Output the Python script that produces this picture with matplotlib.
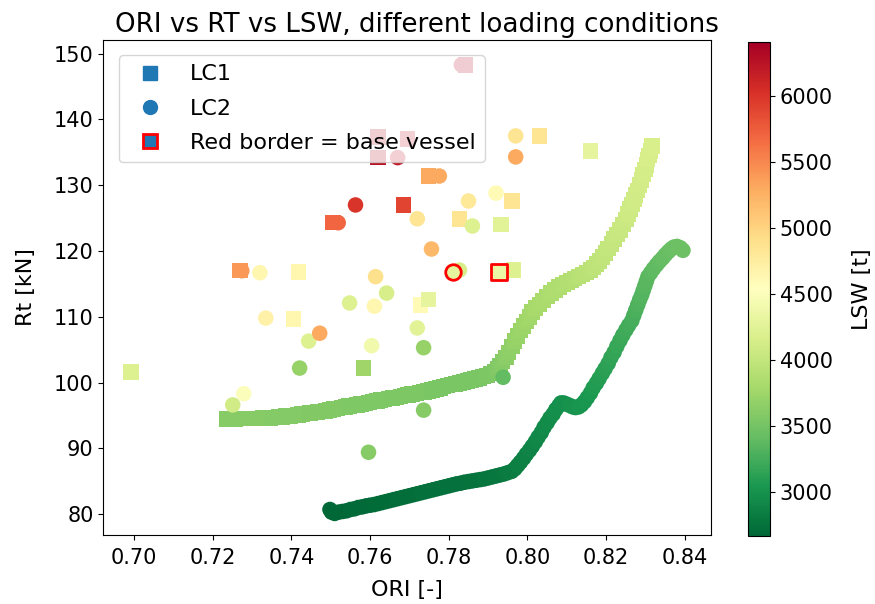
import matplotlib
matplotlib.use('Agg')
import matplotlib.pyplot as plt
from matplotlib.colors import Normalize
from matplotlib.lines import Line2D

# LC1 - sweep curve (squares)
lc1_curve_ori = [0.7237, 0.7247, 0.7257, 0.7267, 0.7277, 0.7287, 0.7297, 0.7307, 0.7317, 0.7327,
                 0.7337, 0.7347, 0.7357, 0.7367, 0.7377, 0.7387, 0.7397, 0.7407, 0.7417, 0.7427,
                 0.7437, 0.7447, 0.7457, 0.7467, 0.7477, 0.7487, 0.7497, 0.7507, 0.7517, 0.7527,
                 0.7537, 0.7547, 0.7557, 0.7567, 0.7577, 0.7587, 0.7597, 0.7607, 0.7617, 0.7627,
                 0.7637, 0.7647, 0.7657, 0.7667, 0.7677, 0.7687, 0.7697, 0.7707, 0.7717, 0.7727,
                 0.7737, 0.7747, 0.7757, 0.7767, 0.7777, 0.7787, 0.7797, 0.7807, 0.7817, 0.7827,
                 0.7837, 0.7847, 0.7857, 0.7867, 0.7877, 0.7887, 0.7897,
                 0.7907, 0.7917, 0.7924, 0.7930, 0.7937, 0.7945, 0.7952, 0.7960, 0.7967, 0.7975,
                 0.7982, 0.7990, 0.7997, 0.8005, 0.8012, 0.8020, 0.8030, 0.8040, 0.8050, 0.8060,
                 0.8070, 0.8080, 0.8090, 0.8100, 0.8110, 0.8120, 0.8130, 0.8140, 0.8150, 0.8160,
                 0.8168, 0.8175, 0.8183, 0.8190, 0.8198, 0.8205, 0.8213, 0.8220, 0.8228, 0.8235,
                 0.8243, 0.8250, 0.8255, 0.8260, 0.8265, 0.8270, 0.8275, 0.8280, 0.8285, 0.8290,
                 0.8294, 0.8298, 0.8302, 0.8305, 0.8309, 0.8312, 0.8316]
lc1_curve_rt = [94.45, 94.45, 94.45, 94.5, 94.5, 94.5, 94.5, 94.55, 94.55, 94.6,
                94.6, 94.65, 94.7, 94.75, 94.8, 94.9, 94.95, 95.0, 95.1, 95.2,
                95.3, 95.4, 95.45, 95.55, 95.6, 95.7, 95.8, 95.95, 96.05, 96.2,
                96.3, 96.4, 96.5, 96.6, 96.7, 96.85, 96.95, 97.1, 97.2, 97.35,
                97.45, 97.55, 97.65, 97.75, 97.85, 98.0, 98.1, 98.25, 98.35, 98.5,
                98.6, 98.75, 98.9, 99.05, 99.2, 99.4, 99.55, 99.7, 99.8, 99.95,
                100.1, 100.25, 100.4, 100.55, 100.7, 100.9, 101.1,
                101.4, 101.7, 102.1, 102.6, 103.2, 103.8, 104.6, 105.5, 106.3, 107.1,
                107.9, 108.6, 109.3, 110.0, 110.7, 111.3, 111.9, 112.5, 113.1, 113.6,
                114.1, 114.5, 114.9, 115.2, 115.5, 115.8, 116.1, 116.4, 116.7, 117.1,
                117.5, 118.0, 118.5, 119.1, 119.7, 120.4, 121.1, 121.8, 122.5, 123.2,
                124.0, 124.8, 125.6, 126.4, 127.1, 127.8, 128.5, 129.2, 130.0, 130.8,
                131.6, 132.4, 133.1, 133.9, 134.5, 135.2, 136.0]
lc1_curve_lsw = [3610, 3610, 3610, 3608, 3606, 3605, 3604, 3602, 3600, 3600,
                 3598, 3596, 3595, 3594, 3592, 3590, 3590, 3588, 3586, 3585,
                 3584, 3582, 3580, 3580, 3578, 3576, 3575, 3574, 3572, 3570,
                 3570, 3568, 3566, 3565, 3564, 3562, 3560, 3560, 3558, 3556,
                 3555, 3554, 3552, 3550, 3550, 3548, 3546, 3545, 3544, 3542,
                 3540, 3540, 3538, 3536, 3535, 3535, 3534, 3532, 3530, 3530,
                 3530, 3530, 3530, 3530, 3530, 3535, 3540,
                 3550, 3560, 3575, 3590, 3610, 3630, 3650, 3670, 3690, 3710,
                 3725, 3740, 3755, 3770, 3785, 3800, 3810, 3820, 3830, 3840,
                 3850, 3860, 3870, 3880, 3890, 3900, 3910, 3920, 3930, 3940,
                 3950, 3960, 3970, 3980, 3990, 4000, 4010, 4020, 4030, 4040,
                 4050, 4060, 4070, 4080, 4090, 4100, 4105, 4110, 4115, 4120,
                 4125, 4130, 4135, 4140, 4145, 4150, 4160]

# LC1 - other designs (squares)
lc1_pts_ori = [0.6992, 0.7270, 0.7418, 0.7406, 0.7583, 0.7620, 0.7620, 0.7695, 0.7842, 0.7506,
               0.7685, 0.7748, 0.8030, 0.8160, 0.7960, 0.7933, 0.7827, 0.7964, 0.7728, 0.7748]
lc1_pts_rt = [101.6, 117.0, 116.8, 109.7, 102.2, 134.2, 137.3, 137.0, 148.3, 124.3,
              127.0, 131.4, 137.5, 135.2, 127.6, 124.0, 124.9, 117.1, 111.8, 112.6]
lc1_pts_lsw = [4200, 5400, 4650, 4650, 3750, 6250, 6250, 6200, 6300, 5700,
               5900, 5300, 4850, 4300, 4850, 4250, 4850, 4200, 4600, 4300]

# LC2 - sweep curve (circles)
lc2_curve_ori = [0.7498, 0.7502, 0.7510, 0.7520, 0.7530, 0.7540, 0.7550, 0.7560, 0.7570, 0.7580,
                 0.7590, 0.7600, 0.7610, 0.7620, 0.7630, 0.7640, 0.7650, 0.7660, 0.7670, 0.7680,
                 0.7690, 0.7700, 0.7710, 0.7720, 0.7730, 0.7740, 0.7750, 0.7760, 0.7770, 0.7780,
                 0.7790, 0.7800, 0.7810, 0.7820, 0.7830, 0.7840, 0.7850, 0.7860, 0.7870, 0.7880,
                 0.7890, 0.7900, 0.7910, 0.7920, 0.7930, 0.7940, 0.7950, 0.7960, 0.7968, 0.7975,
                 0.7982, 0.7990, 0.7997, 0.8005, 0.8012, 0.8020, 0.8027, 0.8035, 0.8042, 0.8050,
                 0.8057, 0.8065, 0.8072, 0.8080, 0.8085, 0.8092, 0.8100, 0.8108, 0.8115, 0.8122,
                 0.8130, 0.8137, 0.8145, 0.8152, 0.8160, 0.8167, 0.8175, 0.8182, 0.8190, 0.8197,
                 0.8205, 0.8212, 0.8220, 0.8227, 0.8235, 0.8242, 0.8250, 0.8257, 0.8265, 0.8270,
                 0.8275, 0.8280, 0.8285, 0.8290, 0.8294, 0.8298, 0.8302, 0.8306, 0.8313, 0.8320,
                 0.8328, 0.8335, 0.8343, 0.8350, 0.8358, 0.8365, 0.8372, 0.8380, 0.8388, 0.8395]
lc2_curve_rt = [80.7, 80.3, 80.1, 80.3, 80.4, 80.5, 80.7, 80.8, 81.0, 81.1,
                81.25, 81.35, 81.45, 81.6, 81.75, 81.9, 82.05, 82.2, 82.35, 82.5,
                82.65, 82.8, 82.95, 83.1, 83.25, 83.4, 83.55, 83.7, 83.85, 84.0,
                84.15, 84.3, 84.45, 84.6, 84.7, 84.85, 84.95, 85.05, 85.15, 85.25,
                85.35, 85.5, 85.65, 85.8, 85.95, 86.1, 86.3, 86.5, 86.9, 87.4,
                87.9, 88.5, 89.1, 89.7, 90.3, 91.0, 91.7, 92.4, 93.2, 93.9,
                94.6, 95.2, 95.9, 96.5, 96.9, 96.9, 96.7, 96.5, 96.3, 96.2,
                96.3, 96.6, 97.1, 97.7, 98.4, 99.2, 99.9, 100.6, 101.4, 102.1,
                102.9, 103.8, 104.6, 105.5, 106.4, 107.2, 108.0, 108.7, 109.4, 110.2,
                111.0, 111.8, 112.6, 113.3, 114.0, 114.7, 115.4, 116.1, 116.7, 117.3,
                117.9, 118.4, 118.9, 119.4, 119.9, 120.3, 120.6, 120.7, 120.5, 120.1]
lc2_curve_lsw = [2680, 2670, 2665, 2665, 2670, 2670, 2675, 2675, 2680, 2680,
                 2685, 2685, 2690, 2690, 2695, 2695, 2700, 2700, 2705, 2705,
                 2710, 2710, 2715, 2715, 2720, 2720, 2725, 2725, 2730, 2730,
                 2735, 2735, 2740, 2740, 2745, 2745, 2750, 2750, 2755, 2760,
                 2765, 2770, 2775, 2780, 2790, 2800, 2810, 2820, 2830, 2840,
                 2850, 2860, 2870, 2880, 2890, 2900, 2910, 2920, 2930, 2940,
                 2950, 2960, 2970, 2980, 2985, 2990, 2995, 3000, 3005, 3010,
                 3015, 3020, 3030, 3040, 3050, 3060, 3075, 3090, 3105, 3120,
                 3135, 3150, 3165, 3180, 3195, 3210, 3225, 3240, 3255, 3270,
                 3285, 3300, 3310, 3320, 3330, 3340, 3350, 3360, 3370, 3380,
                 3390, 3400, 3410, 3420, 3430, 3440, 3450, 3455, 3460, 3460]

# LC2 - other designs (circles)
lc2_pts_ori = [0.7274, 0.7320, 0.7335, 0.7670, 0.7563, 0.7519, 0.7776, 0.7832, 0.7720, 0.7850,
               0.7920, 0.7970, 0.7970, 0.7860, 0.7827, 0.7756, 0.7614, 0.7642, 0.7720, 0.7736,
               0.7938, 0.7736, 0.7444, 0.7472, 0.7548, 0.7611, 0.7604, 0.7421, 0.7279, 0.7251,
               0.7596]
lc2_pts_rt = [117.0, 116.7, 109.8, 134.2, 127.0, 124.3, 131.4, 148.3, 124.9, 127.6,
              128.8, 137.5, 134.3, 123.8, 117.1, 120.3, 116.1, 113.6, 108.3, 105.3,
              100.8, 95.8, 106.3, 107.5, 112.1, 111.6, 105.6, 102.2, 98.3, 96.6,
              89.4]
lc2_pts_lsw = [5400, 4650, 4700, 6200, 6000, 5700, 5300, 6300, 4850, 4800,
               4600, 4850, 5300, 4200, 4150, 5200, 4900, 4150, 4250, 3700,
               3400, 3600, 4200, 5300, 4200, 4650, 4400, 3700, 4500, 4100,
               3600]

# base vessel
base_ori = [0.7928, 0.7810]
base_rt = [116.8, 116.8]
base_lsw = [4350, 4300]
base_marker = ['s', 'o']

lsw_min, lsw_max = 2660, 6410

plt.rcParams['font.size'] = 15
cmap = plt.get_cmap('RdYlGn_r')
norm = Normalize(vmin=lsw_min, vmax=lsw_max)

fig = plt.figure(figsize=(8.75, 6.04), dpi=100)
ax = fig.add_axes([0.118, 0.114, 0.694, 0.820])
cax = fig.add_axes([0.855, 0.112, 0.025, 0.818])

ms = 125
sc = ax.scatter(lc1_curve_ori + lc1_pts_ori, lc1_curve_rt + lc1_pts_rt,
                c=lc1_curve_lsw + lc1_pts_lsw, cmap=cmap, norm=norm,
                marker='s', s=ms, linewidths=0)
ax.scatter(lc2_curve_ori + lc2_pts_ori, lc2_curve_rt + lc2_pts_rt,
           c=lc2_curve_lsw + lc2_pts_lsw, cmap=cmap, norm=norm,
           marker='o', s=ms, linewidths=0)
for x, y, v, m in zip(base_ori, base_rt, base_lsw, base_marker):
    ax.scatter([x], [y], c=[v], cmap=cmap, norm=norm, marker=m, s=ms,
               edgecolors='red', linewidths=2)

ax.set_xlim(0.6922, 0.8465)
ax.set_ylim(76.8, 152.1)
ax.set_xticks([0.70, 0.72, 0.74, 0.76, 0.78, 0.80, 0.82, 0.84])
ax.tick_params(axis='x', pad=5.5)
ax.set_xlabel('ORI [-]', fontsize=16, labelpad=9)
ax.set_ylabel('Rt [kN]', fontsize=16, labelpad=13)
ax.set_title('ORI vs RT vs LSW, different loading conditions', fontsize=18.8, x=0.517)

cb = fig.colorbar(sc, cax=cax)
cb.set_label('LSW [t]', fontsize=16, labelpad=14)

handles = [
    Line2D([], [], marker='s', linestyle='', color='tab:blue', markersize=10),
    Line2D([], [], marker='o', linestyle='', color='tab:blue', markersize=10),
    Line2D([], [], marker='s', linestyle='', markerfacecolor='tab:blue',
           markeredgecolor='red', markeredgewidth=2, markersize=10),
]
ax.legend(handles, ['LC1', 'LC2', 'Red border = base vessel'],
          loc='upper left', fontsize=16, labelspacing=0.65, borderaxespad=0.7)

fig.savefig('out.png', dpi=100)
